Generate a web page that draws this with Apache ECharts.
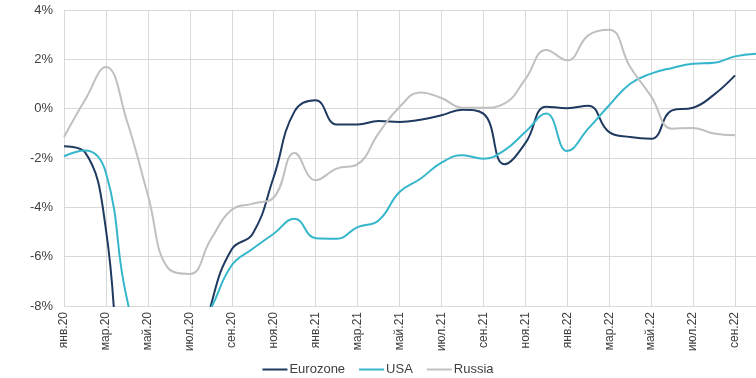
<!DOCTYPE html>
<html>
<head>
<meta charset="utf-8">
<script src="https://cdn.jsdelivr.net/npm/echarts@6/dist/echarts.min.js"></script>
<style>html,body{margin:0;padding:0;background:#fff;}#c{width:756px;height:378px;}</style>
</head>
<body>
<div id="c"></div>
<script>
const months = ['янв.20','фев.20','мар.20','апр.20','май.20','июн.20','июл.20','авг.20','сен.20','окт.20','ноя.20','дек.20',
  'янв.21','фев.21','мар.21','апр.21','май.21','июн.21','июл.21','авг.21','сен.21','окт.21','ноя.21','дек.21',
  'янв.22','фев.22','мар.22','апр.22','май.22','июн.22','июл.22','авг.22','сен.22','окт.22'];
const eurozone = [-1.52,-1.76,-4.9,-13.5,-14.5,-14.5,-12,-8.0,-5.7,-5.07,-2.77,-0.1,
  0.34,-0.64,-0.64,-0.5,-0.54,-0.45,-0.27,-0.04,-0.2,-2.25,-1.4,0.08,
  0.02,0.12,-0.95,-1.15,-1.22,-0.07,0.04,0.57,1.35,null];
const usa = [-1.93,-1.7,-2.6,-7.7,-10,-10,-9.5,-8.1,-6.35,-5.68,-5.07,-4.46,
  -5.25,-5.27,-4.8,-4.53,-3.38,-2.84,-2.19,-1.89,-2.03,-1.69,-0.95,-0.2,
  -1.72,-0.81,0.14,1.01,1.42,1.65,1.82,1.86,2.12,2.23];
const russia = [-1.15,0.35,1.69,-0.5,-3.5,-6.5,-6.7,-5.3,-4.1,-3.85,-3.6,-1.8,
  -2.9,-2.43,-2.25,-1.0,0.07,0.66,0.43,0.04,0.04,0.2,1.2,2.38,
  1.96,2.97,3.2,1.69,0.5,-0.81,-0.78,-1.01,-1.08,null];
const yTicks = [-8,-6,-4,-2,0,2,4];

const font = 'Liberation Sans, Arial, sans-serif';
const chart = echarts.init(document.getElementById('c'), null, {renderer:'canvas'});
const mk = (name, data, color) => ({
  name, type:'line', data, smooth:0.45, showSymbol:false, symbol:'none',
  lineStyle:{color, width:2}, itemStyle:{color}, clip:true, connectNulls:false
});
chart.setOption({
  animation:false,
  grid:{left:64, top:10, width:693, height:296, containLabel:false},
  legend:{
    data:['Eurozone','USA','Russia'], top:358, left:'center',
    icon:'rect', itemWidth:25, itemHeight:2, itemGap:14,
    textStyle:{fontFamily:font, fontSize:13, color:'#404040', padding:[0,0,0,-3]}
  },
  xAxis:{
    type:'category', data:months, boundaryGap:false,
    axisLine:{show:true, lineStyle:{color:'#d9d9d9'}},
    axisTick:{show:false},
    axisLabel:{interval:1, rotate:90, fontFamily:font, fontSize:12, color:'#404040', margin:6},
    splitLine:{show:true, interval:1, lineStyle:{color:'#d9d9d9', width:1}}
  },
  yAxis:{
    type:'value', min:yTicks[0], max:yTicks[yTicks.length-1], interval:2,
    axisLine:{show:false}, axisTick:{show:false},
    axisLabel:{formatter:v=>v+'%', fontFamily:font, fontSize:13, color:'#404040', margin:11},
    splitLine:{show:true, lineStyle:{color:'#d9d9d9', width:1}}
  },
  series:[
    mk('Eurozone', eurozone, '#1f3a60'),
    mk('USA', usa, '#35b6cb'),
    mk('Russia', russia, '#c0c0c0')
  ]
});
</script>
</body>
</html>
